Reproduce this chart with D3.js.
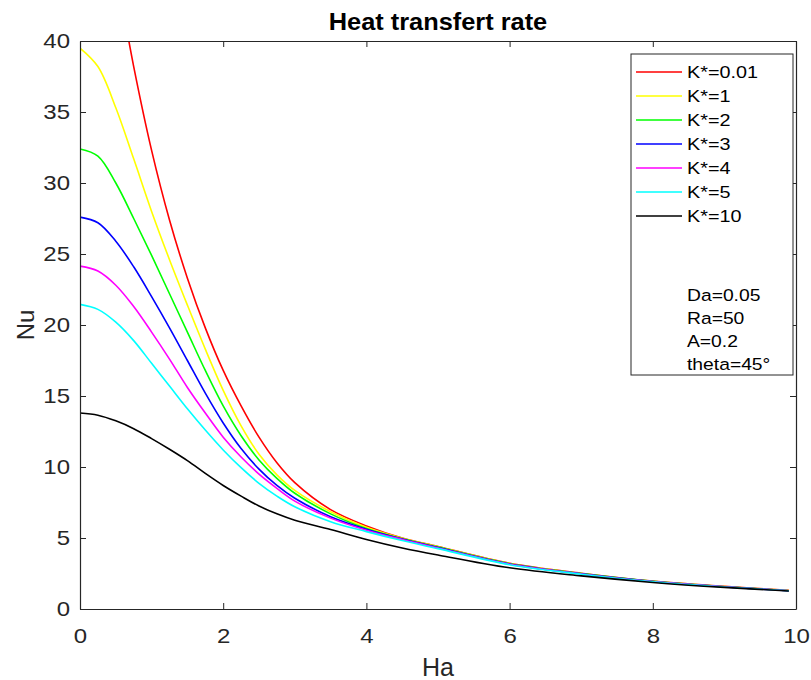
<!DOCTYPE html>
<html>
<head>
<meta charset="utf-8">
<script src="https://cdn.jsdelivr.net/npm/d3@7"></script>
<style>
  body { margin: 0; background: #fff; }
  svg text { font-family: Arial, "Liberation Sans", sans-serif; }
</style>
</head>
<body>
<div id="chart"></div>
<script>
// Ha values where the curves were read
const ha = [0, 0.25, 0.5, 0.75, 1, 1.25, 1.5, 1.75, 2, 2.25, 2.5, 2.75, 3, 3.5, 4, 4.5, 5, 6, 7, 8, 9, 9.9];

// Nu for each K*
const nuK001 = [53, 51, 45, 38.2, 32.3, 27.4, 23.3, 19.8, 16.8, 14.3, 12.1, 10.3, 8.9, 7.0, 5.85, 5.0, 4.4, 3.22, 2.52, 1.96, 1.59, 1.31];
const nuK1   = [39.5, 38.2, 35.3, 31.7, 28.0, 24.6, 21.4, 18.3, 15.4, 12.9, 10.9, 9.45, 8.35, 6.85, 5.75, 4.98, 4.38, 3.2, 2.5, 1.95, 1.58, 1.3];
const nuK2   = [32.4, 31.9, 30.0, 27.5, 24.9, 22.2, 19.5, 16.8, 14.3, 12.2, 10.5, 9.2, 8.15, 6.7, 5.67, 4.95, 4.36, 3.18, 2.49, 1.95, 1.57, 1.29];
const nuK3   = [27.6, 27.2, 25.9, 24.1, 22.0, 19.8, 17.5, 15.2, 13.1, 11.3, 9.85, 8.7, 7.8, 6.5, 5.62, 4.93, 4.33, 3.17, 2.48, 1.94, 1.57, 1.29];
const nuK4   = [24.15, 23.8, 22.8, 21.3, 19.5, 17.6, 15.6, 13.8, 12.1, 10.7, 9.5, 8.5, 7.6, 6.4, 5.55, 4.9, 4.3, 3.15, 2.47, 1.93, 1.56, 1.29];
const nuK5   = [21.45, 21.1, 20.2, 18.9, 17.3, 15.7, 14.1, 12.6, 11.2, 9.95, 8.85, 7.95, 7.2, 6.15, 5.45, 4.82, 4.25, 3.12, 2.45, 1.92, 1.55, 1.29];
const nuK10  = [13.8, 13.65, 13.25, 12.7, 12.0, 11.25, 10.45, 9.55, 8.7, 7.95, 7.25, 6.7, 6.25, 5.6, 4.9, 4.3, 3.8, 2.9, 2.33, 1.87, 1.52, 1.27];

const seriesNames = ["K*=0.01", "K*=1", "K*=2", "K*=3", "K*=4", "K*=5", "K*=10"];
const seriesValues = [nuK001, nuK1, nuK2, nuK3, nuK4, nuK5, nuK10];
const seriesColors = ["#ff0000", "#ffff00", "#00ff00", "#0000ff", "#ff00ff", "#00ffff", "#000000"];

const paramLines = ["Da=0.05", "Ra=50", "A=0.2", "theta=45°"];
const xTicks = [0, 2, 4, 6, 8, 10];
const yTicks = [0, 5, 10, 15, 20, 25, 30, 35, 40];

const W = 811, H = 680;
const margin = { top: 41, right: 15, bottom: 71, left: 80 };
const width = W - margin.left - margin.right;
const height = H - margin.top - margin.bottom;
const axisColor = "#262626";

// the reference text is a bit wider than Arial, so squeeze it out sideways
function stretch(sel, k) {
    sel.each(function () {
        const t = d3.select(this);
        const x = +t.attr("x") || 0;
        t.attr("x", x / k).attr("transform", "scale(" + k + ",1)");
    });
}

const svg = d3.select("#chart").append("svg")
    .attr("width", W)
    .attr("height", H);

const g = svg.append("g")
    .attr("transform", "translate(" + margin.left + "," + margin.top + ")");

const x = d3.scaleLinear().domain([0, 10]).range([0, width]);
const y = d3.scaleLinear().domain([0, 40]).range([height, 0]);

// clip the curves to the axes box
svg.append("defs").append("clipPath").attr("id", "plot-clip")
    .append("rect").attr("width", width).attr("height", height);

const line = d3.line()
    .x((d, i) => x(ha[i]))
    .y(d => y(d))
    .curve(d3.curveCatmullRom.alpha(0.5));

g.append("g").attr("clip-path", "url(#plot-clip)")
    .selectAll("path")
    .data(seriesValues)
    .enter().append("path")
    .attr("d", d => line(d))
    .attr("fill", "none")
    .attr("stroke", (d, i) => seriesColors[i])
    .attr("stroke-width", 1.6);

// axes, MATLAB style ticks pointing inward
const xAxis = d3.axisBottom(x).tickValues(xTicks).tickSizeInner(-6).tickSizeOuter(0).tickPadding(20);
const yAxis = d3.axisLeft(y).tickValues(yTicks).tickSizeInner(-6).tickSizeOuter(0).tickPadding(10);

const gx = g.append("g").attr("transform", "translate(0," + height + ")").call(xAxis);
const gy = g.append("g").call(yAxis);
g.append("g").call(d3.axisTop(x).tickValues(xTicks).tickSizeInner(-6).tickSizeOuter(0).tickFormat(""));
g.append("g").attr("transform", "translate(" + width + ",0)")
    .call(d3.axisRight(y).tickValues(yTicks).tickSizeInner(-6).tickSizeOuter(0).tickFormat(""));

g.selectAll(".domain").attr("stroke", axisColor).attr("stroke-width", 1.2);
g.selectAll(".tick line").attr("stroke", axisColor);
g.selectAll(".tick text")
    .attr("fill", axisColor)
    .style("font-size", "20px");
stretch(gx.selectAll(".tick text"), 1.2);
stretch(gy.selectAll(".tick text"), 1.2);

// title and axis labels
const title = svg.append("text")
    .attr("x", margin.left + width / 2)
    .attr("y", 30)
    .attr("text-anchor", "middle")
    .attr("fill", "#000")
    .style("font-size", "23.5px")
    .style("font-weight", "bold")
    .text("Heat transfert rate");
stretch(title, 1.08);

svg.append("text")
    .attr("x", margin.left + width / 2)
    .attr("y", 676)
    .attr("text-anchor", "middle")
    .attr("fill", axisColor)
    .style("font-size", "25px")
    .text("Ha");

svg.append("text")
    .attr("transform", "translate(34," + (margin.top + height / 2) + ") rotate(-90)")
    .attr("text-anchor", "middle")
    .attr("fill", axisColor)
    .style("font-size", "24px")
    .text("Nu");

// legend box
const legend = svg.append("g").attr("transform", "translate(631,54)");
legend.append("rect")
    .attr("width", 162)
    .attr("height", 321)
    .attr("fill", "#fff")
    .attr("stroke", axisColor)
    .attr("stroke-width", 1);

const rowY = d3.scaleLinear().domain([0, 1]).range([18, 42]);

const rows = legend.selectAll(".legend-row")
    .data(seriesNames)
    .enter().append("g")
    .attr("class", "legend-row")
    .attr("transform", (d, i) => "translate(0," + rowY(i) + ")");

rows.append("line")
    .attr("x1", 5).attr("x2", 51)
    .attr("stroke", (d, i) => seriesColors[i])
    .attr("stroke-width", 1.6);

const rowText = rows.append("text")
    .attr("x", 56)
    .attr("dy", "0.36em")
    .attr("fill", "#000")
    .style("font-size", "16.5px")
    .text(d => d);
stretch(rowText, 1.2);

const paramY = d3.scaleLinear().domain([0, 1]).range([241, 264]);
const paramText = legend.selectAll(".param")
    .data(paramLines)
    .enter().append("text")
    .attr("class", "param")
    .attr("x", 56)
    .attr("y", (d, i) => paramY(i))
    .attr("dy", "0.36em")
    .attr("fill", "#000")
    .style("font-size", "16.5px")
    .text(d => d);
stretch(paramText, 1.17);
</script>
</body>
</html>
